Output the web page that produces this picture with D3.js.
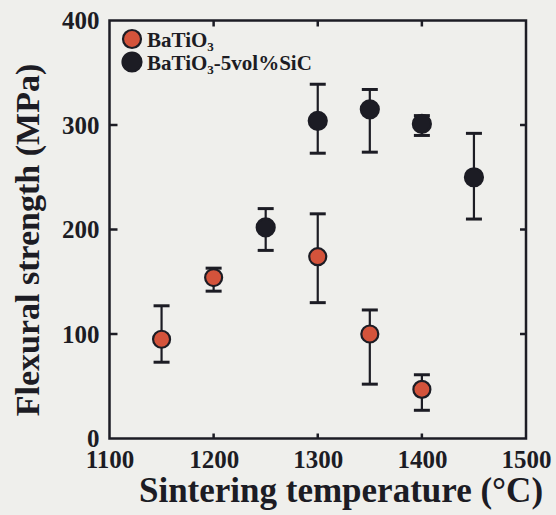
<!DOCTYPE html>
<html lang="en">
<head>
<meta charset="UTF-8">
<title>Flexural strength vs sintering temperature</title>
<script src="https://d3js.org/d3.v7.min.js"></script>
<style>
    body { margin: 0; background: #efefec; }
    svg { display: block; }
    text { font-family: "Liberation Serif", "Times New Roman", serif; font-weight: bold; fill: #1c1c24; }
</style>
</head>
<body>
<script>
// BaTiO3 monolith
const baTemps = [1150, 1200, 1300, 1350, 1400];
const baMean  = [95, 154, 174, 100, 47];
const baLow   = [73, 141, 130, 52, 27];
const baHigh  = [127, 163, 215, 123, 61];

// BaTiO3-5vol%SiC composite
const sicTemps = [1250, 1300, 1350, 1400, 1450];
const sicMean  = [202, 304, 315, 301, 250];
const sicLow   = [180, 273, 274, 290, 210];
const sicHigh  = [220, 339, 334, 309, 292];

const xTicks = [1100, 1200, 1300, 1400, 1500];
const yTicks = [0, 100, 200, 300, 400];
const innerX = [1200, 1300, 1400];
const innerY = [100, 200, 300];

const width = 556, height = 515;
const ink = "#1c1c24";
const red = "#d4533b";

const x = d3.scaleLinear().domain([1100, 1500]).range([109.5, 526]);
const y = d3.scaleLinear().domain([0, 400]).range([438.5, 20.5]);

const svg = d3.select("body").append("svg")
    .attr("width", width).attr("height", height);

// axes (labels only, ticks drawn inside below)
const left = svg.append("g").attr("transform", "translate(" + x.range()[0] + ",0)")
    .call(d3.axisLeft(y).tickValues(yTicks).tickFormat(d3.format("d")).tickSize(0).tickPadding(10));
const bottom = svg.append("g").attr("transform", "translate(0," + y.range()[0] + ")")
    .call(d3.axisBottom(x).tickValues(xTicks).tickFormat(d3.format("d")).tickSize(0).tickPadding(12));
[left, bottom].forEach(g => {
    g.select(".domain").remove();
    g.selectAll("text").style("font-size", "25px").style("fill", ink)
        .style("font-family", "'Liberation Serif', serif").style("font-weight", "bold");
});
bottom.selectAll("text").attr("dy", "0.71em");

// inner ticks on all four sides
const tickG = svg.append("g").attr("stroke", ink).attr("stroke-width", 2.5);
innerX.forEach(v => {
    tickG.append("line").attr("x1", x(v)).attr("x2", x(v)).attr("y1", y(0)).attr("y2", y(0) - 5);
    tickG.append("line").attr("x1", x(v)).attr("x2", x(v)).attr("y1", y(400)).attr("y2", y(400) + 6);
});
innerY.forEach(v => {
    tickG.append("line").attr("y1", y(v)).attr("y2", y(v)).attr("x1", x(1100)).attr("x2", x(1100) + 8);
    tickG.append("line").attr("y1", y(v)).attr("y2", y(v)).attr("x1", x(1500)).attr("x2", x(1500) - 6);
});

// frame
svg.append("rect")
    .attr("x", x(1100)).attr("y", y(400))
    .attr("width", x(1500) - x(1100)).attr("height", y(0) - y(400))
    .attr("fill", "none").attr("stroke", ink).attr("stroke-width", 2.5);

// error bars + markers
function series(temps, mean, low, high, fill, r) {
    const g = svg.append("g");
    const rows = temps.map((t, i) => ({ t: t, m: mean[i], lo: low[i], hi: high[i] }));
    const eb = g.selectAll(".eb").data(rows).enter().append("g")
        .attr("stroke", ink);
    eb.append("line").attr("stroke-width", 2.2)
        .attr("x1", d => x(d.t)).attr("x2", d => x(d.t))
        .attr("y1", d => y(d.lo)).attr("y2", d => y(d.hi));
    eb.append("line").attr("stroke-width", 3)
        .attr("x1", d => x(d.t) - 8).attr("x2", d => x(d.t) + 8)
        .attr("y1", d => y(d.lo)).attr("y2", d => y(d.lo));
    eb.append("line").attr("stroke-width", 3)
        .attr("x1", d => x(d.t) - 8).attr("x2", d => x(d.t) + 8)
        .attr("y1", d => y(d.hi)).attr("y2", d => y(d.hi));
    g.selectAll("circle").data(rows).enter().append("circle")
        .attr("cx", d => x(d.t)).attr("cy", d => y(d.m)).attr("r", r)
        .attr("fill", fill).attr("stroke", ink).attr("stroke-width", 2.2);
}
series(baTemps, baMean, baLow, baHigh, red, 8.5);
series(sicTemps, sicMean, sicLow, sicHigh, ink, 9);

// legend
const legend = svg.append("g");
legend.append("circle").attr("cx", 132).attr("cy", 39).attr("r", 9)
    .attr("fill", red).attr("stroke", ink).attr("stroke-width", 2.2);
legend.append("circle").attr("cx", 132).attr("cy", 62).attr("r", 9.5)
    .attr("fill", ink).attr("stroke", ink).attr("stroke-width", 2.2);
const l1 = legend.append("text").attr("x", 147).attr("y", 47).style("font-size", "21px");
l1.append("tspan").text("BaTiO");
l1.append("tspan").attr("dy", 4).style("font-size", "13px").text("3");
const l2 = legend.append("text").attr("x", 147).attr("y", 70).style("font-size", "21px");
l2.append("tspan").text("BaTiO");
l2.append("tspan").attr("dy", 4).style("font-size", "13px").text("3");
l2.append("tspan").attr("dy", -4).text("-5vol%SiC");

// axis titles
svg.append("text")
    .attr("x", 341).attr("y", 502)
    .attr("text-anchor", "middle").style("font-size", "35px")
    .text("Sintering temperature (°C)");
svg.append("text")
    .attr("transform", "translate(39,240) rotate(-90)")
    .attr("text-anchor", "middle").style("font-size", "34px")
    .text("Flexural strength (MPa)");
</script>
</body>
</html>
